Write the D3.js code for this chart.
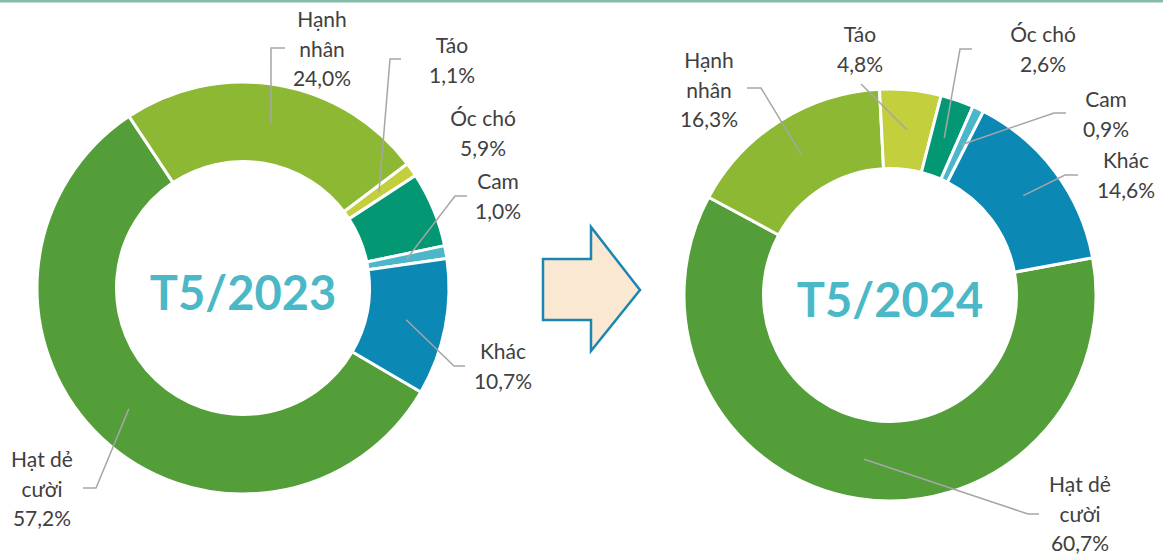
<!DOCTYPE html>
<html>
<head>
<meta charset="utf-8">
<script src="https://cdn.jsdelivr.net/npm/d3@7"></script>
<style>
  html, body { margin: 0; padding: 0; background: #fff; }
  svg { display: block; }
  .lbl { font-family: Lato, "Open Sans", sans-serif; font-size: 21px; fill: #404040; }
  .center { font-family: Lato, "Open Sans", sans-serif; font-weight: 700; font-size: 47px; fill: #4bb8c8; }
</style>
</head>
<body>
<div id="chart"></div>
<script>
// data
const categories = ["Hạt dẻ cười", "Hạnh nhân", "Táo", "Óc chó", "Cam", "Khác"];
const nameLines = [["Hạt dẻ", "cười"], ["Hạnh", "nhân"], ["Táo"], ["Óc chó"], ["Cam"], ["Khác"]];
const share2023 = [57.2, 24.0, 1.1, 5.9, 1.0, 10.7];
const share2024 = [60.7, 16.3, 4.8, 2.6, 0.9, 14.6];
const periods = ["T5/2023", "T5/2024"];

const colours = ["#549e3a", "#8cb833", "#c3cf3c", "#039873", "#4bb7c8", "#0b88b3"];

const width = 1163, height = 554;
const outerR = 206, innerR = 126.5;

// label layout (offsets from the donut centre): text x / first baseline, leader elbow, leader end
const layout2023 = [
    {tx: -201, ty: 179, elbow: [-147, 200], end: [-160, 200]},
    {tx: 79, ty: -261, elbow: [28, -240], end: [42, -240]},
    {tx: 209, ty: -235, elbow: [147, -229], end: [158, -229]},
    {tx: 240, ty: -162, elbow: null, end: null},
    {tx: 255, ty: -99, elbow: [212, -92], end: [224, -92]},
    {tx: 260, ty: 71, elbow: [211, 78], end: [222, 78]}
];
const layout2024 = [
    {tx: 190, ty: 197, elbow: [138, 219], end: [149, 219]},
    {tx: -181, ty: -227, elbow: [-129, -207], end: [-143, -207]},
    {tx: -30, ty: -253, elbow: [-29, -211], end: [-29, -211]},
    {tx: 153, ty: -253, elbow: [70, -246], end: [82, -246]},
    {tx: 216, ty: -188, elbow: [164, -182], end: [176, -182]},
    {tx: 236, ty: -127, elbow: [175, -120], end: [188, -120]}
];

const donuts = [
    {values: share2023, period: periods[0], cx: 243, cy: 288, start: 120.3, layout: layout2023},
    {values: share2024, period: periods[1], cx: 890, cy: 295, start: 79.6, layout: layout2024}
];

const fmt = v => d3.format(".1f")(v).replace(".", ",") + "%";
const colour = d3.scaleOrdinal().domain(categories).range(colours);

const svg = d3.select("#chart")
    .append("svg")
        .attr("width", width)
        .attr("height", height);

// thin rule along the top
svg.append("rect")
    .attr("x", 0).attr("y", 0)
    .attr("width", width).attr("height", 2.5)
    .attr("fill", "#86bba9");

const arc = d3.arc().innerRadius(innerR).outerRadius(outerR);

donuts.forEach(dn => {
    const rad = dn.start * Math.PI / 180;
    const pie = d3.pie().sort(null).value(d => d.value)
        .startAngle(rad).endAngle(rad + 2 * Math.PI);
    const data = categories.map((c, i) => ({name: c, lines: nameLines[i], value: dn.values[i], lay: dn.layout[i]}));
    const arcs = pie(data);

    const g = svg.append("g").attr("transform", `translate(${dn.cx},${dn.cy})`);

    g.selectAll(".slice").data(arcs)
        .join("path")
            .attr("class", "slice")
            .attr("d", arc)
            .attr("fill", d => colour(d.data.name))
            .attr("stroke", "#fff")
            .attr("stroke-width", 3)
            .attr("stroke-linejoin", "miter");

    // leader lines from the slice centroid
    g.selectAll(".leader").data(arcs.filter(d => d.data.lay.elbow))
        .join("polyline")
            .attr("class", "leader")
            .attr("points", d => [arc.centroid(d), d.data.lay.elbow, d.data.lay.end].map(p => p.join(",")).join(" "))
            .attr("fill", "none")
            .attr("stroke", "#a6a6a6")
            .attr("stroke-width", 1.5);

    const labels = g.selectAll(".lbl").data(arcs)
        .join("text")
            .attr("class", "lbl")
            .attr("text-anchor", "middle")
            .attr("x", d => d.data.lay.tx)
            .attr("y", d => d.data.lay.ty);

    labels.selectAll("tspan")
        .data(d => d.data.lines.concat([fmt(d.data.value)]).map(t => ({t, x: d.data.lay.tx})))
        .join("tspan")
            .attr("x", d => d.x)
            .attr("dy", (d, i) => i === 0 ? 0 : 29.5)
            .text(d => d.t);

    g.append("text")
        .attr("class", "center")
        .attr("text-anchor", "middle")
        .attr("x", 0)
        .attr("y", 22)
        .text(dn.period);
});

// block arrow between the two donuts
svg.append("path")
    .attr("d", "M543,259 L591,259 L591,227 L640,290 L591,351 L591,320 L543,320 Z")
    .attr("fill", "#fbe8d2")
    .attr("stroke", "#1b87b0")
    .attr("stroke-width", 2.5)
    .attr("stroke-linejoin", "miter");
</script>
</body>
</html>
